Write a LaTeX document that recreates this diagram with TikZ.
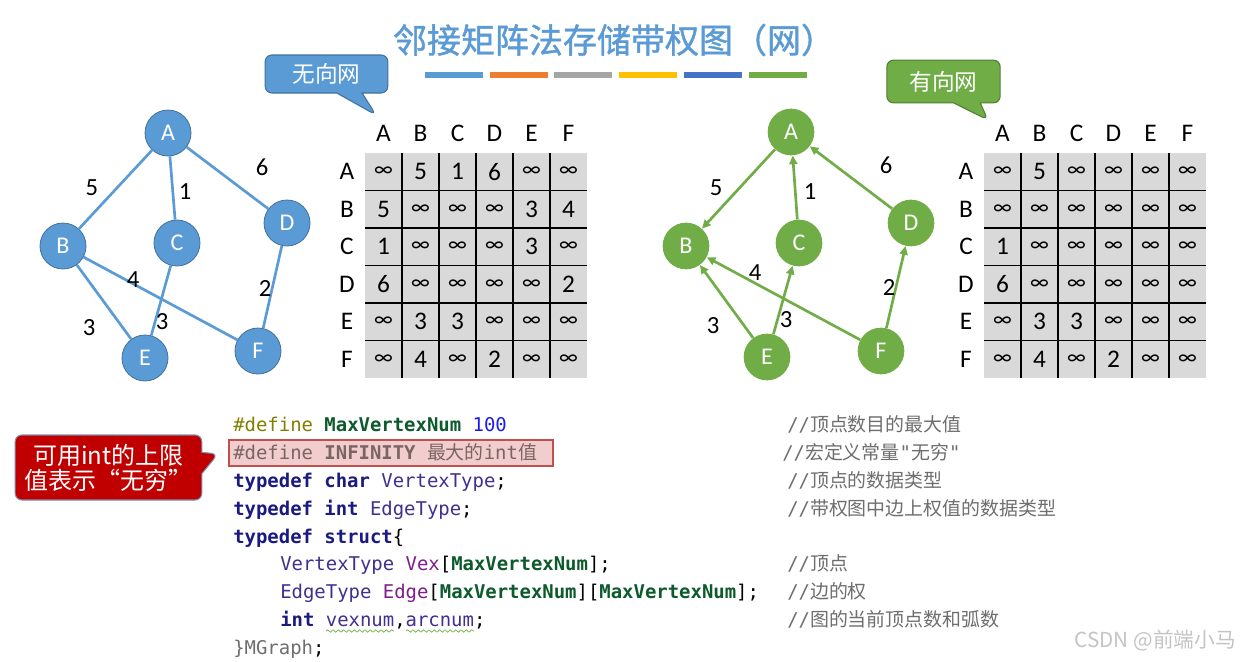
\documentclass[tikz,border=0pt]{standalone}
\usepackage{fontspec}
\setmainfont{Carlito}
\setmonofont{DejaVu Sans Mono}
\newfontfamily\cjk{Noto Sans CJK SC}
\newfontfamily\cjkhead[FakeBold=1.2]{Noto Sans CJK SC}
\usetikzlibrary{arrows.meta,shapes.callouts,decorations.pathmorphing}

\definecolor{netblue}{HTML}{5B9BD5}
\definecolor{netbluedk}{HTML}{41719C}
\definecolor{netgreen}{HTML}{70AD47}
\definecolor{netgreendk}{HTML}{507E32}
\definecolor{barorange}{HTML}{ED7D31}
\definecolor{bargray}{HTML}{A5A5A5}
\definecolor{baryellow}{HTML}{FFC000}
\definecolor{bardkblue}{HTML}{4472C4}
\definecolor{tipred}{HTML}{C00000}
\definecolor{tipredrim}{HTML}{7F8FA8}
\definecolor{cellgray}{HTML}{D9D9D9}
\definecolor{kwnavy}{HTML}{1A1A80}
\definecolor{typpurp}{HTML}{40308F}
\definecolor{fieldmag}{HTML}{7E1E8A}
\definecolor{macgreen}{HTML}{0D5A2D}
\definecolor{ppolive}{HTML}{808000}
\definecolor{numblue}{HTML}{1E1EE0}
\definecolor{hltext}{HTML}{7A6464}
\definecolor{hlfill}{HTML}{F2CDCD}
\definecolor{hlrim}{HTML}{C0504D}
\definecolor{cmtgray}{HTML}{6E6E6E}
\definecolor{wmgray}{HTML}{C4C4C4}
\definecolor{squiggle}{HTML}{6FAF3F}

\newcommand{\infs}{{\fontsize{16.5}{16.5}\selectfont ∞}}

\tikzset{
  vtxu/.style={circle,fill=netblue,draw=netbluedk,line width=0.6pt,minimum size=34.5pt,
    inner sep=0pt,text=white,font=\fontsize{18}{18}\selectfont},
  vtxd/.style={circle,fill=netgreen,minimum size=35pt,inner sep=0pt,text=white,
    font=\fontsize{18}{18}\selectfont},
  edgeu/.style={netblue,line width=2pt},
  arcd/.style={netgreen,line width=2pt,-{Triangle[length=6.5pt,width=6pt]}},
  wt/.style={font=\fontsize{18.5}{18.5}\selectfont,inner sep=0pt},
  hdr/.style={font=\fontsize{19}{19}\selectfont,inner sep=0pt},
  cell/.style={font=\fontsize{19}{19}\selectfont,inner sep=0pt},
  gridline/.style={black,line width=1.1pt},
  bubble/.style={rectangle callout,rounded corners=5pt,text=white,line width=0.8pt,
    font=\fontsize{17}{17}\cjk},
  code/.style={anchor=base west,inner sep=0pt,font=\fontsize{14.2}{17}\ttfamily},
  cmt/.style={anchor=base west,inner sep=0pt,text=cmtgray,font=\fontsize{14.2}{17}\ttfamily},
}

\begin{document}
\begin{tikzpicture}[x=0.75pt,y=-0.75pt]
\useasboundingbox (0,0) rectangle (1246,661);
\fill[white] (0,0) rectangle (1246,661);

% title and colour bars
\node[font=\fontsize{25.5}{30}\cjkhead,text=netblue] (title) at (614,40) {邻接矩阵法存储带权图（网）};
\foreach \c [count=\i] in {netblue,barorange,bargray,baryellow,bardkblue,netgreen}
  \fill[\c] (360+\i*64.8,72) rectangle ++(58,6);

% callouts
\node[bubble,fill=netblue,draw=netbluedk,minimum width=92pt,minimum height=28.5pt,
  callout pointer width=19pt,callout absolute pointer={(376,115)}] (netU) at (326.5,74) {无向网};
\node[bubble,fill=netgreen,draw=netgreendk,minimum width=85pt,minimum height=32pt,
  callout pointer width=20pt,callout absolute pointer={(988,120)}] (netD) at (943.5,81.5) {有向网};

% undirected graph
\node[vtxu] (uA) at (168,133) {A};
\node[vtxu] (uB) at (63,246) {B};
\node[vtxu] (uC) at (177,243) {C};
\node[vtxu] (uD) at (287,223) {D};
\node[vtxu] (uE) at (145,358) {E};
\node[vtxu] (uF) at (258,351) {F};
\draw[edgeu] (uA) -- (uB);
\draw[edgeu] (uA) -- (uC);
\draw[edgeu] (uA) -- (uD);
\draw[edgeu] (uB) -- (uE);
\draw[edgeu] (uB) -- (uF);
\draw[edgeu] (uC) -- (uE);
\draw[edgeu] (uD) -- (uF);
\node[wt] (wu1) at (92,188) {5};
\node[wt] (wu2) at (185,192) {1};
\node[wt] (wu3) at (262,167) {6};
\node[wt] (wu4) at (133,280) {4};
\node[wt] (wu5) at (265,288) {2};
\node[wt] (wu6) at (89,328) {3};
\node[wt] (wu7) at (162,322) {3};

% directed graph
\node[vtxd] (dA) at (791,132) {A};
\node[vtxd] (dB) at (686,246) {B};
\node[vtxd] (dC) at (799,243) {C};
\node[vtxd] (dD) at (911,223) {D};
\node[vtxd] (dE) at (767,357) {E};
\node[vtxd] (dF) at (881,351) {F};
\draw[arcd] (dA) -- (dB);
\draw[arcd] (dC) -- (dA);
\draw[arcd] (dD) -- (dA);
\draw[arcd] (dE) -- (dB);
\draw[arcd] (dE) -- (dC);
\draw[arcd] (dF) -- (dB);
\draw[arcd] (dF) -- (dD);
\node[wt] (wd1) at (716,188) {5};
\node[wt] (wd2) at (810,192) {1};
\node[wt] (wd3) at (886,165) {6};
\node[wt] (wd4) at (755,273) {4};
\node[wt] (wd5) at (889,287) {2};
\node[wt] (wd6) at (713,326) {3};
\node[wt] (wd7) at (786,320) {3};

% matrix of the undirected net
\fill[cellgray] (365,153) rectangle (587,378);
\foreach \i in {1,...,5} {
  \draw[gridline] (365,153+\i*37.5) -- (587,153+\i*37.5);
  \draw[gridline] (365+\i*37,153) -- (365+\i*37,378);
}
\foreach \l [count=\i] in {A,B,C,D,E,F} {
  \node[hdr] (uc\l) at (346.5+\i*37,133) {\l};
  \node[hdr] (ur\l) at (347,134.25+\i*37.5) {\l};
}
\foreach \row [count=\r] in {{\infs,5,1,6,\infs,\infs},{5,\infs,\infs,\infs,3,4},
    {1,\infs,\infs,\infs,3,\infs},{6,\infs,\infs,\infs,\infs,2},
    {\infs,3,3,\infs,\infs,\infs},{\infs,4,\infs,2,\infs,\infs}}
  \foreach \v [count=\c] in \row
    \node[cell] (u\r-\c) at (346.5+\c*37,134.25+\r*37.5) {\v};

% matrix of the directed net
\fill[cellgray] (984,153) rectangle (1206,378);
\foreach \i in {1,...,5} {
  \draw[gridline] (984,153+\i*37.5) -- (1206,153+\i*37.5);
  \draw[gridline] (984+\i*37,153) -- (984+\i*37,378);
}
\foreach \l [count=\i] in {A,B,C,D,E,F} {
  \node[hdr] (dc\l) at (965.5+\i*37,133) {\l};
  \node[hdr] (dr\l) at (966,134.25+\i*37.5) {\l};
}
\foreach \row [count=\r] in {{\infs,5,\infs,\infs,\infs,\infs},{\infs,\infs,\infs,\infs,\infs,\infs},
    {1,\infs,\infs,\infs,\infs,\infs},{6,\infs,\infs,\infs,\infs,\infs},
    {\infs,3,3,\infs,\infs,\infs},{\infs,4,\infs,2,\infs,\infs}}
  \foreach \v [count=\c] in \row
    \node[cell] (d\r-\c) at (965.5+\c*37,134.25+\r*37.5) {\v};

% code
\draw[fill=hlfill,draw=hlrim,line width=0.8pt] (229,440) rectangle (553,466);
\node[code] (ln1) at (233,431) {{\color{ppolive}\#define} {\bfseries\color{macgreen}MaxVertexNum} {\color{numblue}100}};
\node[code,text=hltext] (ln2) at (233,459) {\#define \textbf{INFINITY} {\cjk 最大的}int{\cjk 值}};
\node[code,text=typpurp] (ln3) at (233,487) {{\bfseries\color{kwnavy}typedef char} VertexType{\color{black};}};
\node[code,text=typpurp] (ln4) at (233,515) {{\bfseries\color{kwnavy}typedef int} EdgeType{\color{black};}};
\node[code] (ln5) at (233,543) {{\bfseries\color{kwnavy}typedef struct}\{};
\node[code] (ln6) at (280,570) {{\color{typpurp}VertexType} {\color{fieldmag}Vex}[{\bfseries\color{macgreen}MaxVertexNum}];};
\node[code] (ln7) at (280,598) {{\color{typpurp}EdgeType} {\color{fieldmag}Edge}[{\bfseries\color{macgreen}MaxVertexNum}][{\bfseries\color{macgreen}MaxVertexNum}];};
\node[code] (ln8) at (280,626) {{\bfseries\color{kwnavy}int} {\color{typpurp}vexnum},{\color{typpurp}arcnum};};
\node[code] (ln9) at (233,654) {{\color{cmtgray}\}MGraph};};
\draw[squiggle,line width=0.5pt,decorate,decoration={snake,amplitude=0.9pt,segment length=4pt}] (326,631) -- (394,631);
\draw[squiggle,line width=0.5pt,decorate,decoration={snake,amplitude=0.9pt,segment length=4pt}] (406,631) -- (474,631);

% comments
\node[cmt] (cm1) at (787,431) {//{\cjk 顶点数目的最大值}};
\node[cmt] (cm2) at (782,459) {//{\cjk 宏定义常量}"{\cjk 无穷}"};
\node[cmt] (cm3) at (787,487) {//{\cjk 顶点的数据类型}};
\node[cmt] (cm4) at (787,515) {//{\cjk 带权图中边上权值的数据类型}};
\node[cmt] (cm6) at (787,570) {//{\cjk 顶点}};
\node[cmt] (cm7) at (787,598) {//{\cjk 边的权}};
\node[cmt] (cm8) at (787,626) {//{\cjk 图的当前顶点数和弧数}};

% red note
\node[bubble,fill=tipred,draw=tipredrim,minimum width=140pt,minimum height=48.75pt,
  callout pointer width=16pt,callout absolute pointer={(218,454)},align=center,
  font=\fontsize{18}{18.75}\cjk] (note) at (108.5,467.5) {可用int的上限\\值表示“无穷”};

% watermark
\node[font=\fontsize{15.5}{16}\cjk,text=wmgray,anchor=base east,inner sep=0pt] (mark) at (1236,647) {CSDN @前端小马};
\end{tikzpicture}
\end{document}
